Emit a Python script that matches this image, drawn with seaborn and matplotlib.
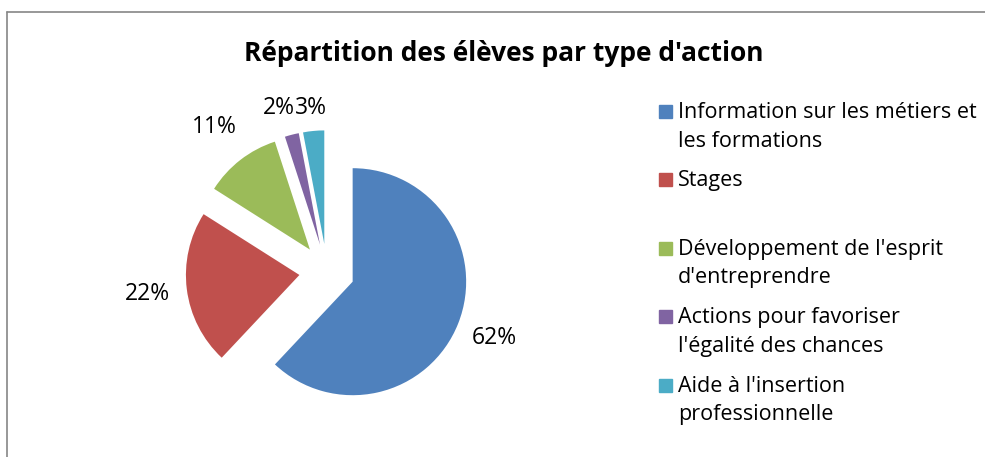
import textwrap
import numpy as np
import seaborn as sns
import matplotlib.pyplot as plt
from matplotlib.lines import Line2D
from matplotlib.patches import Rectangle

# donnees
categories = ["Information sur les métiers et les formations",
              "Stages",
              "Développement de l'esprit d'entreprendre",
              "Actions pour favoriser l'égalité des chances",
              "Aide à l'insertion professionnelle"]
parts = [62, 22, 11, 2, 3]
couleurs = ["#4F81BD", "#C0504D", "#9BBB59", "#8064A2", "#4BACC6"]
titre = "Répartition des élèves par type d'action"

sns.set_theme(style="white")
plt.rcParams['font.family'] = ['Open Sans', 'DejaVu Sans']
plt.rcParams['text.color'] = 'black'

W, H = 985, 457
fig = plt.figure(figsize=(W / 100, H / 100), dpi=100)

# placement du camembert en pixels
R = 113.5
cx, cy = 326.9, 271.5
xl, yl = 1.8, 1.6
ax = fig.add_axes([(cx - xl * R) / W, (H - cy - yl * R) / H, 2 * xl * R / W, 2 * yl * R / H])

ecart = 0.244
wedges, texts, autotexts = ax.pie(parts, colors=couleurs, startangle=90, counterclock=False,
                                  explode=[ecart] * len(parts),
                                  autopct=lambda p: f"{p:.0f}%", pctdistance=1.34,
                                  textprops={'fontsize': 16.5, 'color': 'black'},
                                  wedgeprops={'linewidth': 0})

# distance des etiquettes comme dans excel
dist = [1.34, 1.35, 1.37, 1.24, 1.20]
pos = []
for w, t, d in zip(wedges, autotexts, dist):
    a = np.deg2rad((w.theta1 + w.theta2) / 2)
    x = (ecart + d) * np.cos(a)
    y = (ecart + d) * np.sin(a)
    t.set_position((x, y))
    pos.append((x, y))
# les deux petites etiquettes collees l'une a l'autre
xm = pos[4][0] - 0.15
autotexts[3].set_position((xm, pos[3][1]))
autotexts[3].set_ha('right')
autotexts[4].set_position((xm, pos[3][1]))
autotexts[4].set_ha('left')

ax.set_xlim(-xl, xl)
ax.set_ylim(-yl, yl)
ax.set_aspect('equal')

fig.text(504 / W, 1 - 61 / H, titre, fontsize=19, fontweight='bold', ha='center', va='baseline')

# legende faite a la main (carre aligne sur la premiere ligne)
y0, pas, interligne = 118, 68.4, 28.7
for i, (cat, col) in enumerate(zip(categories, couleurs)):
    yb = y0 + i * pas
    fig.patches.append(Rectangle((659 / W, 1 - yb / H), 13 / W, 13 / H,
                                 transform=fig.transFigure, color=col))
    for k, ligne in enumerate(textwrap.wrap(cat, 30)):
        fig.text(678 / W, 1 - (yb + k * interligne) / H, ligne, fontsize=15.5, va='baseline')

# bordure du cadre
fig.add_artist(Line2D([7 / W, 1], [1 - 12 / H, 1 - 12 / H], color='#868686', lw=1.2))
fig.add_artist(Line2D([7 / W, 7 / W], [0, 1 - 12 / H], color='#868686', lw=1.2))

fig.savefig('out.png', dpi=100, facecolor='white')
